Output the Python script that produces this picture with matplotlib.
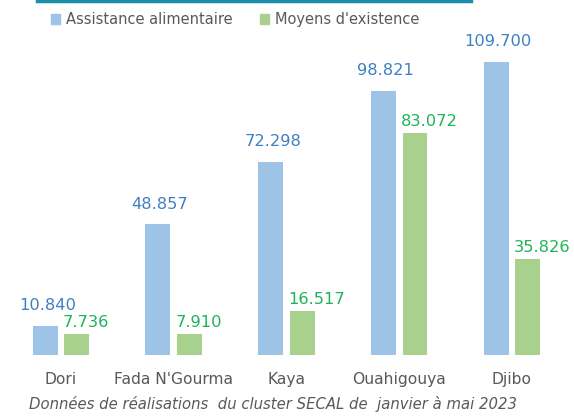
import matplotlib.pyplot as plt
import numpy as np
from matplotlib.lines import Line2D
from matplotlib.patches import Patch

villes = ["Dori", "Fada N'Gourma", "Kaya", "Ouahigouya", "Djibo"]
assistance = [10.840, 48.857, 72.298, 98.821, 109.700]
moyens = [7.736, 7.910, 16.517, 83.072, 35.826]
series_noms = ["Assistance alimentaire", "Moyens d'existence"]
sous_titre = "Données de réalisations  du cluster SECAL de  janvier à mai 2023"

bleu, vert = "#9dc3e6", "#a9d18e"
bleu_txt, vert_txt = "#3f80c2", "#1fb35a"
gris = "#595959"

plt.rcParams['font.family'] = ['DejaVu Sans']

fig = plt.figure(figsize=(5.74, 4.17), dpi=100)
ax = fig.add_axes([0, 0.149, 1, 0.769])

x = np.arange(len(villes))
w = 0.22
off = 0.14
ax.bar(x - off, assistance, w, color=bleu)
ax.bar(x + off, moyens, w, color=vert)

# etiquettes bleues centrees, vertes alignees a gauche sur la barre
for xi, v in zip(x - off, assistance):
    ax.annotate(f"{v:.3f}", (xi, v), xytext=(1.5, 9), textcoords="offset points",
                ha="center", va="bottom", color=bleu_txt, fontsize=11.7)
for xi, v in zip(x + off - w / 2, moyens):
    ax.annotate(f"{v:.3f}", (xi, v), xytext=(-1, 3), textcoords="offset points",
                ha="left", va="bottom", color=vert_txt, fontsize=11.7)

ax.set_xlim(-0.54, 4.55)
ax.set_ylim(0, 120)
ax.set_xticks(x)
ax.set_xticklabels(villes, color=gris, fontsize=11.2)
ax.tick_params(axis="x", length=0, pad=12)
ax.set_yticks([])
for s in ax.spines.values():
    s.set_visible(False)

fig.text(0.476, 0.031, sous_titre, ha="center", va="center", style="italic",
         color=gris, fontsize=10.7)

handles = [Patch(color=bleu), Patch(color=vert)]
leg = fig.legend(handles, series_noms, loc="center", bbox_to_anchor=(0.41, 0.953),
                 ncol=2, frameon=False, fontsize=10.5, handlelength=0.6, handleheight=0.6,
                 handletextpad=0.4, columnspacing=1.9)
for t in leg.get_texts():
    t.set_color(gris)

fig.add_artist(Line2D([0.065, 0.82], [0.997, 0.997], color="#1a8fa8", lw=2.5,
                      transform=fig.transFigure))

fig.savefig("out.png", dpi=100)
